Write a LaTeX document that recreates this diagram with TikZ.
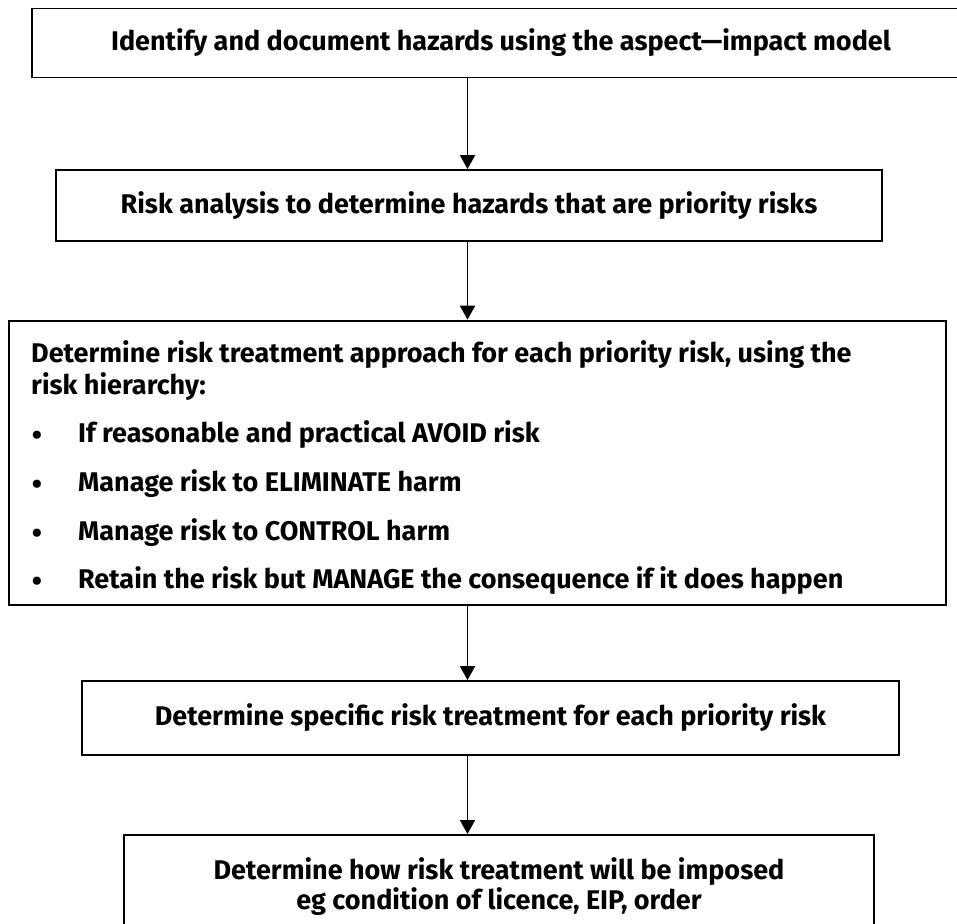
\documentclass[tikz,border=0pt]{standalone}
\usepackage{fontspec}
\setmainfont{Fira Sans}
\usetikzlibrary{arrows.meta,positioning}
\newcommand{\stagefont}{\fontsize{27}{30}\selectfont\bfseries}

\begin{document}
\begin{tikzpicture}[x=1pt, y=-1pt,
    stagebox/.style = {draw, line width=1.8pt, font=\stagefont, inner sep=0pt},
    flow/.style = {-{Triangle[length=14pt, width=15pt]}, line width=1.8pt},
    hierline/.style = {font=\stagefont, inner sep=0pt, anchor=base west},
  ]
  \useasboundingbox (0,0) rectangle (957,923);
  \coordinate (spine) at (467.5,0);

  % the five stages
  \node (identify) [stagebox, minimum width=938pt, minimum height=69pt]
    at (501,43) {Identify and document hazards using the aspect---impact model};
  \node (analysis) [stagebox, minimum width=826pt, minimum height=71pt]
    at (469,205.5) {Risk analysis to determine hazards that are priority risks};
  \node (approach) [stagebox, minimum width=937pt, minimum height=284pt]
    at (477.5,462.6) {};
  \node (specific) [stagebox, minimum width=817pt, minimum height=74pt]
    at (490.5,718) {Determine specific risk treatment for each priority risk};
  \node (imposed) [stagebox, anchor=north, minimum width=750pt, inner ysep=23pt,
    align=center] at (499,834)
    {Determine how risk treatment will be imposed\\eg condition of licence, EIP, order};

  % risk hierarchy text
  \node (head1) [hierline] at (31,362)
    {Determine risk treatment approach for each priority risk, using the};
  \node (head2) [hierline] at (31,394) {risk hierarchy:};
  \foreach \txt [count=\i] in {If reasonable and practical AVOID risk,
      Manage risk to ELIMINATE harm, Manage risk to CONTROL harm,
      Retain the risk but MANAGE the consequence if it does happen} {
    \node (dot\i) [hierline, anchor=base, font=\fontsize{36}{36}\selectfont, yshift=-5pt]
      at (37,394+48.7*\i) {•};
    \node (item\i) [hierline] at (78,394+48.7*\i) {\txt};
  }

  % connectors
  \draw [flow] (identify.south -| spine) -- (analysis.north -| spine);
  \draw [flow] (analysis.south -| spine) -- (approach.north -| spine);
  \draw [flow] (approach.south -| spine) -- (specific.north -| spine);
  \draw [flow] (specific.south -| spine) -- (imposed.north -| spine);
\end{tikzpicture}
\end{document}
